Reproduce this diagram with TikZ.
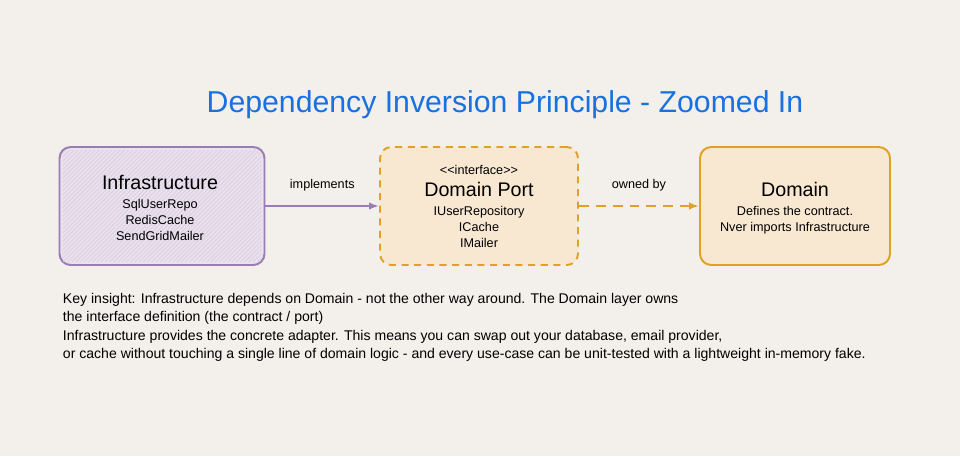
\documentclass[tikz,border=0pt]{standalone}
\usepackage{fontspec}
\setmainfont{Liberation Sans}
\usetikzlibrary{positioning,patterns,arrows.meta}
\definecolor{paper}{HTML}{F3EFEA}
\definecolor{titleblue}{HTML}{1971E0}
\definecolor{infraline}{HTML}{9A7DB5}
\definecolor{infrafill}{HTML}{E9E1EC}
\definecolor{portline}{HTML}{E0A226}
\definecolor{portfill}{HTML}{F8E8D2}
\tikzset{
    block/.style = {draw, rectangle, rounded corners=8pt, line width=1.4pt,
        minimum height=118*0.025cm, align=center},
    arrow/.style = {draw, line width=2pt, -{Latex[length=7pt]}},
    lbl/.style = {font=\fontsize{9}{11.4}\selectfont, align=center},
    small/.style = {font=\fontsize{10}{13.2}\selectfont}
}
\begin{document}
\begin{tikzpicture}[x=0.025cm, y=-0.025cm]
    \fill[paper] (0,0) rectangle (960,456);
    \useasboundingbox (0,0) rectangle (960,456);
    \node[text=titleblue, font=\fontsize{21.5}{24}\selectfont] (title) at (505,105) {Dependency Inversion Principle - Zoomed In};
    % three layers
    \node[block, draw=infraline, fill=infrafill, minimum width=205*0.025cm] (infra) at (162,206) {};
    \fill[pattern=north east lines, pattern color=infraline!40] ([shift={(3pt,-3pt)}]infra.north west) rectangle ([shift={(-3pt,3pt)}]infra.south east);
    \node[block, draw=portline, fill=portfill, dashed, dash pattern=on 5pt off 4pt, minimum width=198*0.025cm] (port) at (479,206) {};
    \node[block, draw=portline, fill=portfill, minimum width=190*0.025cm] (dom) at (795,206) {};
    % texts
    \node[font=\fontsize{14}{16}\selectfont] (infrat) at (160,182) {Infrastructure};
    \node[lbl, below=0pt of infrat] {SqlUserRepo\\RedisCache\\SendGridMailer};
    \node[lbl] (iface) at (479,170) {<{}<interface>{}>};
    \node[font=\fontsize{14}{16}\selectfont] (portt) at (479,189) {Domain Port};
    \node[lbl, below=0pt of portt] {IUserRepository\\ICache\\IMailer};
    \node[font=\fontsize{14}{16}\selectfont] (domt) at (795,189) {Domain};
    \node[lbl, below=0pt of domt] {Defines the contract.\\Nver imports Infrastructure};
    % connectors
    \draw[arrow, infraline] (infra) -- node[above=6pt, lbl, text=black] {implements} (port);
    \draw[arrow, portline, dash pattern=on 7pt off 5pt] (port) -- node[above=6pt, lbl, text=black] {owned by} (dom);
    % note
    \node[small, anchor=north west, align=left] (note) at (58,288) {Key insight: Infrastructure depends on Domain - not the other way around. The Domain layer owns\\the interface definition (the contract / port)\\Infrastructure provides the concrete adapter. This means you can swap out your database, email provider,\\or cache without touching a single line of domain logic - and every use-case can be unit-tested with a lightweight in-memory fake.};
\end{tikzpicture}
\end{document}
